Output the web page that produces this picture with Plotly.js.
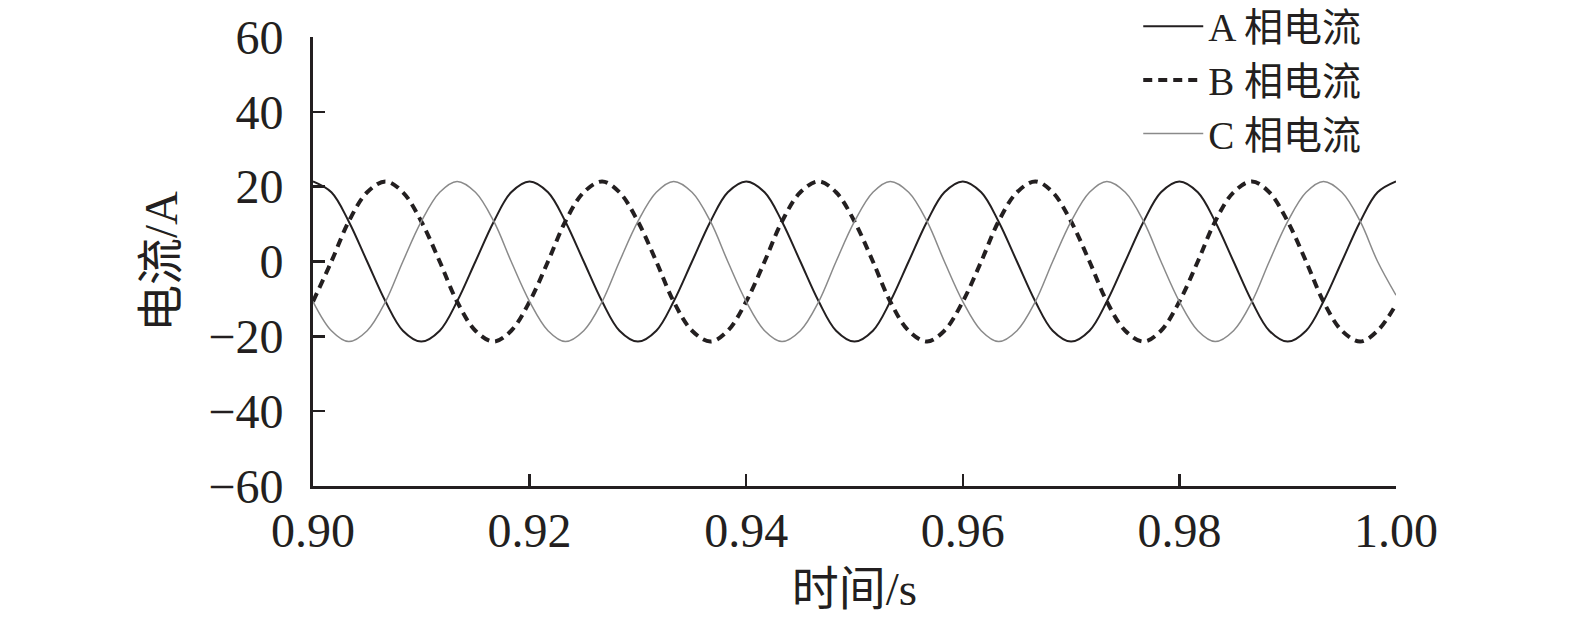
<!DOCTYPE html>
<html>
<head>
<meta charset="utf-8">
<script src="https://cdn.plot.ly/plotly-3.0.1.min.js"></script>
<style>
  html, body { margin: 0; padding: 0; background: #fff; }
  #chart { width: 1575px; height: 628px; }
</style>
</head>
<body>
<div id="chart"></div>
<script>
// time axis, s
const t = [
  0.9000,0.9017,0.9033,0.9050,0.9067,0.9083,0.9100,0.9117,0.9133,0.9150,0.9167,0.9183,
  0.9200,0.9217,0.9233,0.9250,0.9267,0.9283,0.9300,0.9317,0.9333,0.9350,0.9367,0.9383,
  0.9400,0.9417,0.9433,0.9450,0.9467,0.9483,0.9500,0.9517,0.9533,0.9550,0.9567,0.9583,
  0.9600,0.9617,0.9633,0.9650,0.9667,0.9683,0.9700,0.9717,0.9733,0.9750,0.9767,0.9783,
  0.9800,0.9817,0.9833,0.9850,0.9867,0.9883,0.9900,0.9917,0.9933,0.9950,0.9967,0.9983,
  1.0000
];

// phase currents, A
const iA = [
  21.4,18.5,10.7,0,-10.7,-18.5,-21.4,-18.5,-10.7,0,10.7,18.5,
  21.4,18.5,10.7,0,-10.7,-18.5,-21.4,-18.5,-10.7,0,10.7,18.5,
  21.4,18.5,10.7,0,-10.7,-18.5,-21.4,-18.5,-10.7,0,10.7,18.5,
  21.4,18.5,10.7,0,-10.7,-18.5,-21.4,-18.5,-10.7,0,10.7,18.5,
  21.4,18.5,10.7,0,-10.7,-18.5,-21.4,-18.5,-10.7,0,10.7,18.5,
  21.4
];
const iB = [
  -10.7,0,10.7,18.5,21.4,18.5,10.7,0,-10.7,-18.5,-21.4,-18.5,
  -10.7,0,10.7,18.5,21.4,18.5,10.7,0,-10.7,-18.5,-21.4,-18.5,
  -10.7,0,10.7,18.5,21.4,18.5,10.7,0,-10.7,-18.5,-21.4,-18.5,
  -10.7,0,10.7,18.5,21.4,18.5,10.7,0,-10.7,-18.5,-21.4,-18.5,
  -10.7,0,10.7,18.5,21.4,18.5,10.7,0,-10.7,-18.5,-21.4,-18.5,
  -11.5
];
const iC = [
  -10.7,-18.5,-21.4,-18.5,-10.7,0,10.7,18.5,21.4,18.5,10.7,0,
  -10.7,-18.5,-21.4,-18.5,-10.7,0,10.7,18.5,21.4,18.5,10.7,0,
  -10.7,-18.5,-21.4,-18.5,-10.7,0,10.7,18.5,21.4,18.5,10.7,0,
  -10.7,-18.5,-21.4,-18.5,-10.7,0,10.7,18.5,21.4,18.5,10.7,0,
  -10.7,-18.5,-21.4,-18.5,-10.7,0,10.7,18.5,21.4,18.5,10.7,0,
  -9
];

const names = ["A 相电流", "B 相电流", "C 相电流"];
const xTicks = [0.90, 0.92, 0.94, 0.96, 0.98, 1.00];
const yTicks = [-60, -40, -20, 0, 20, 40, 60];

const ink = "#231f20";
const fam = "'Liberation Serif', 'Times New Roman', 'Noto Sans CJK SC', serif";

let traceA = {
  x: t, y: iA, name: names[0],
  mode: 'lines',
  line: {color: ink, width: 2, shape: 'spline'},
  hoverinfo: 'none'
};
let traceB = {
  x: t, y: iB, name: names[1],
  mode: 'lines',
  line: {color: ink, width: 4, dash: '9px,6px', shape: 'spline'},
  hoverinfo: 'none'
};
let traceC = {
  x: t, y: iC, name: names[2],
  mode: 'lines',
  line: {color: '#8a8a8a', width: 1.5, shape: 'spline'},
  hoverinfo: 'none'
};

let layout = {
  width: 1575,
  height: 628,
  margin: {l: 313, r: 179, t: 37, b: 142, autoexpand: false},
  paper_bgcolor: '#fff',
  plot_bgcolor: '#fff',
  font: {family: fam, size: 48, color: ink},
  showlegend: true,
  legend: {
    x: 0.762, y: 1.095, xanchor: 'left', yanchor: 'top',
    bgcolor: 'rgba(0,0,0,0)',
    font: {family: fam, size: 39, color: ink},
    itemwidth: 60,
    tracegroupgap: 0
  },
  xaxis: {
    range: [0.90, 1.00],
    tickvals: xTicks,
    tickformat: '.2f',
    ticks: 'inside', ticklen: 12, tickwidth: 2.5, tickcolor: ink,
    showline: true, linewidth: 3, linecolor: ink,
    showgrid: false, zeroline: false,
    ticklabelstandoff: 0,
    title: {text: '时间/s', standoff: 17, font: {family: fam, size: 47, color: ink}}
  },
  yaxis: {
    range: [-60, 60],
    tickvals: yTicks,
    ticks: 'inside', ticklen: 12, tickwidth: 2.5, tickcolor: ink,
    showline: true, linewidth: 3, linecolor: ink,
    showgrid: false, zeroline: false,
    ticklabelstandoff: 17,
    title: {text: '电流/A', standoff: 16, font: {family: fam, size: 47, color: ink}}
  }
};

Plotly.newPlot('chart', [traceA, traceB, traceC], layout, {staticPlot: true});
</script>
</body>
</html>
